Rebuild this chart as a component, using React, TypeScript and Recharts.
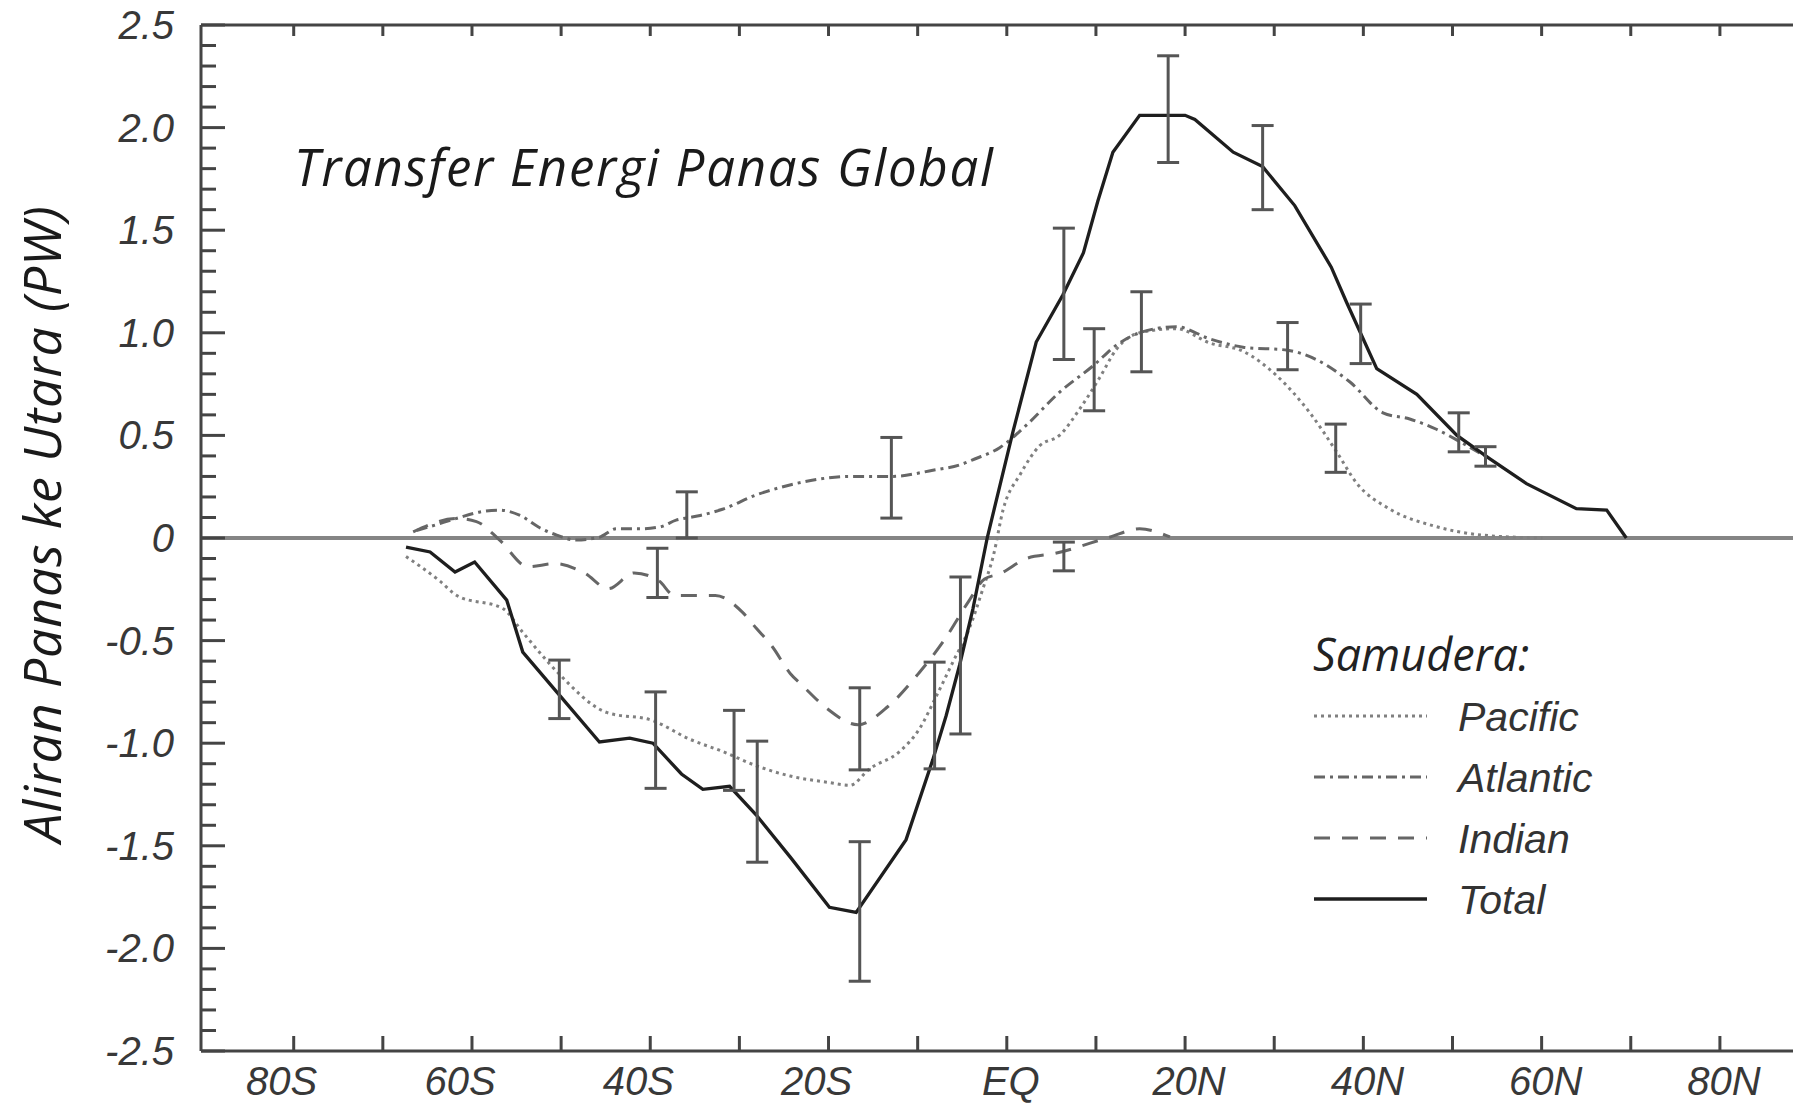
import React from 'react'
import {
  ComposedChart, Line, Scatter, ErrorBar, XAxis, YAxis, ReferenceLine, Customized,
} from 'recharts'

// latitude (deg, S negative) and northward heat transport (PW)
const pacificLat = [-67.4, -63.6, -61.7, -56.5, -54.3, -50.5, -44.9, -39.7, -35.6, -31.9, -28.1, -24.3, -20.2, -17.6, -15.4, -12, -9.8, -7.9, -6, -4.2, -2.7, -1.5, -0.4, 1.5, 3.7, 5.9, 8.2, 10.4, 12.3, 14.9, 19, 22.8, 26.5, 30.3, 34, 37, 39.2, 43, 47.8, 53.4, 60.1]
const pacificPW = [-0.09, -0.21, -0.28, -0.345, -0.46, -0.65, -0.85, -0.89, -0.98, -1.04, -1.11, -1.16, -1.19, -1.205, -1.125, -1.04, -0.93, -0.77, -0.6, -0.44, -0.25, -0.085, 0.14, 0.31, 0.45, 0.5, 0.63, 0.78, 0.92, 1.0, 1.02, 0.95, 0.91, 0.79, 0.61, 0.42, 0.27, 0.14, 0.06, 0.014, 0]

const atlanticLat = [-66.2, -63.6, -61.4, -59.1, -56.9, -54.6, -52.4, -50.5, -48.3, -45.7, -43.8, -41.2, -38.9, -37.1, -35.6, -34.4, -31.9, -28.1, -25.1, -22, -17.7, -12.9, -8.3, -5.3, -3.6, -0.8, 2.2, 5.9, 9.7, 12.3, 14.9, 19, 22.8, 26.5, 31.5, 34.7, 38.5, 42.2, 45.2, 48.2, 50.8, 54.2]
const atlanticPW = [0.037, 0.07, 0.1, 0.127, 0.136, 0.11, 0.05, 0.014, -0.01, 0.004, 0.045, 0.045, 0.054, 0.087, 0.1, 0.11, 0.14, 0.21, 0.25, 0.28, 0.3, 0.3, 0.33, 0.356, 0.385, 0.44, 0.55, 0.71, 0.84, 0.94, 1.0, 1.03, 0.97, 0.93, 0.915, 0.87, 0.76, 0.61, 0.58, 0.53, 0.47, 0.385]

const indianLat = [-66.6, -61.7, -59.5, -56.9, -53.7, -50.7, -47.4, -44.7, -41.8, -39, -37.3, -32.7, -29.7, -28.1, -26.3, -24.3, -22.9, -20.2, -16.7, -13.3, -9.9, -6.9, -4.3, -2.5, -0.8, 2.2, 5.4, 11.6, 14.9, 18.3]
const indianPW = [0.03, 0.095, 0.08, -0.01, -0.14, -0.125, -0.17, -0.247, -0.17, -0.21, -0.28, -0.28, -0.36, -0.44, -0.53, -0.66, -0.72, -0.83, -0.91, -0.82, -0.66, -0.49, -0.31, -0.2, -0.175, -0.1, -0.075, 0.005, 0.045, 0.005]

const totalLat = [-67.4, -64.7, -61.9, -59.7, -56.1, -54.3, -50.5, -45.7, -42.3, -39.7, -36.5, -34.1, -31.1, -28.1, -24.2, -19.9, -16.9, -11.3, -8.3, -6.8, -5.3, -3.8, -2.2, 0.7, 3.3, 6.3, 8.6, 10.2, 11.9, 14.9, 20, 21.1, 25.4, 28.7, 32.3, 36.4, 38.1, 41.5, 46, 50.5, 54.2, 58.3, 63.9, 67.3, 69.5]
const totalPW = [-0.044, -0.068, -0.166, -0.117, -0.303, -0.556, -0.75, -0.994, -0.975, -1.0, -1.15, -1.225, -1.21, -1.35, -1.56, -1.8, -1.825, -1.47, -1.08, -0.865, -0.62, -0.345, 0, 0.52, 0.955, 1.185, 1.39, 1.64, 1.88, 2.06, 2.06, 2.04, 1.88, 1.81, 1.62, 1.32, 1.15, 0.825, 0.7, 0.5, 0.386, 0.265, 0.143, 0.136, 0]

// error bars: latitude, lower end, upper end
const barLat = [-50.2, -39.2, -35.9, -39.4, -30.6, -28, -16.5, -16.5, -12.95, -8.1, -5.2, 6.4, 6.4, 9.8, 15.1, 18.1, 28.7, 31.5, 36.9, 39.7, 50.7, 53.7]
const barLow = [-0.88, -0.29, 0.0, -1.22, -1.23, -1.58, -1.13, -2.16, 0.097, -1.125, -0.955, -0.16, 0.87, 0.62, 0.81, 1.83, 1.6, 0.82, 0.32, 0.85, 0.42, 0.35]
const barHigh = [-0.595, -0.05, 0.225, -0.75, -0.84, -0.99, -0.73, -1.48, 0.49, -0.605, -0.19, -0.02, 1.51, 1.02, 1.2, 2.35, 2.01, 1.05, 0.555, 1.14, 0.61, 0.445]

const latTicks = [-80, -70, -60, -50, -40, -30, -20, -10, 0, 10, 20, 30, 40, 50, 60, 70, 80]
const latLabelTicks = [-80, -60, -40, -20, 0, 20, 40, 60, 80]
const latLabels = ['80S', '60S', '40S', '20S', 'EQ', '20N', '40N', '60N', '80N']
const pwTicks = Array.from({ length: 51 }, (_, i) => Math.round((-2.5 + i * 0.1) * 10) / 10)

const legendItems = [
  { name: 'Pacific', color: '#808080', dash: '3 4', width: 3 },
  { name: 'Atlantic', color: '#666', dash: '11 5 3 5', width: 3 },
  { name: 'Indian', color: '#666', dash: '16 12', width: 3 },
  { name: 'Total', color: '#1e1e1e', dash: undefined, width: 3.5 },
]

const toPoints = (lat: number[], pw: number[]) => lat.map((l, i) => ({ lat: l, pw: pw[i] }))
const errData = barLat.map((l, i) => {
  const mid = (barLow[i] + barHigh[i]) / 2
  return { lat: l, pw: mid, err: [mid - barLow[i], barHigh[i] - mid] }
})

const FRAME = '#444'
const LAT_DOMAIN = [-90.4, 88.2]
const tickFont = { fontFamily: '"Liberation Sans", Arial, sans-serif', fontStyle: 'italic' as const }

const LeftTick = (props: any) => {
  const { x, y, payload } = props
  const v = payload.value
  const major = Math.abs(v * 2 - Math.round(v * 2)) < 1e-6
  return (
    <g>
      <line x1={x} x2={x + (major ? 24 : 15)} y1={y} y2={y} stroke={FRAME} strokeWidth={3} />
      {major && (
        <text x={x - 27} y={y + 14} textAnchor="end" fontSize={40} fill="#383838" {...tickFont}>
          {v === 0 ? '0' : v.toFixed(1)}
        </text>
      )}
    </g>
  )
}

const RightTick = (props: any) => {
  const { x, y, payload } = props
  const v = payload.value
  const major = Math.abs(v * 2 - Math.round(v * 2)) < 1e-6
  return <line x1={x} x2={x - (major ? 24 : 15)} y1={y} y2={y} stroke="#888" strokeWidth={2} />
}

const BottomTick = (props: any) => {
  const { x, y, payload } = props
  const idx = latLabelTicks.indexOf(payload.value)
  // labels in the original sit a little off their ticks: S ones to the left, N ones to the right
  const shift = payload.value < 0 ? -12 : 4
  return (
    <g>
      <line x1={x} x2={x} y1={y} y2={y - 15} stroke={FRAME} strokeWidth={3} />
      {idx >= 0 && (
        <text x={x + shift} y={y + 44} textAnchor="middle" fontSize={40} fill="#383838" {...tickFont}>
          {latLabels[idx]}
        </text>
      )}
    </g>
  )
}

const TopTick = (props: any) => {
  const { x, y } = props
  return <line x1={x} x2={x} y1={y} y2={y + 11} stroke={FRAME} strokeWidth={3} />
}

const Titles = () => (
  <g>
    <text x={294} y={186} fontSize={51} letterSpacing={1.7} fill="#1a1a1a" fontFamily='"Open Sans", sans-serif' fontStyle="italic">
      Transfer Energi Panas Global
    </text>
    <text
      x={61} y={524} transform="rotate(-90, 61, 524)" textAnchor="middle" letterSpacing={0.8}
      fontSize={52} fill="#1a1a1a" fontFamily='"Open Sans", sans-serif' fontStyle="italic"
    >
      Aliran Panas ke Utara (PW)
    </text>
  </g>
)

// legend drawn inside the plot, lower right
const LegendBox = () => (
  <g transform="translate(1300, 630)">
    <text x={13} y={41} fontSize={45} fill="#222" fontFamily='"Open Sans", sans-serif' fontStyle="italic">
      Samudera:
    </text>
    {legendItems.map((it, i) => {
      const ly = 86 + i * 61
      return (
        <g key={it.name}>
          <line x1={14} x2={127} y1={ly} y2={ly} stroke={it.color} strokeWidth={it.width} strokeDasharray={it.dash} />
          <text x={158} y={ly + 15} fontSize={41} fill="#333" {...tickFont}>{it.name}</text>
        </g>
      )
    })}
  </g>
)

export default function App() {
  return (
    <div style={{ position: 'absolute', left: 0, top: 0, width: 1795, height: 1104, overflow: 'hidden', background: '#fff' }}>
      <ComposedChart width={1795} height={1104} margin={{ top: 24, right: 2, bottom: 3, left: 101 }}>
        <XAxis
          xAxisId="bottom" dataKey="lat" type="number" domain={LAT_DOMAIN} ticks={latTicks}
          allowDataOverflow height={50} tickSize={0} tickMargin={0} tickLine={false}
          axisLine={{ stroke: FRAME, strokeWidth: 3 }} tick={<BottomTick />} interval={0}
        />
        <XAxis
          xAxisId="top" orientation="top" dataKey="lat" type="number" domain={LAT_DOMAIN} ticks={latTicks}
          allowDataOverflow height={1} tickSize={0} tickMargin={0} tickLine={false}
          axisLine={{ stroke: FRAME, strokeWidth: 3 }} tick={<TopTick />} interval={0}
        />
        <YAxis
          yAxisId="left" type="number" domain={[-2.5, 2.5]} ticks={pwTicks} allowDataOverflow
          width={100} tickSize={0} tickMargin={0} tickLine={false} interval={0}
          axisLine={{ stroke: FRAME, strokeWidth: 3 }} tick={<LeftTick />}
        />
        <YAxis
          yAxisId="right" orientation="right" type="number" domain={[-2.5, 2.5]} ticks={pwTicks} allowDataOverflow
          width={0} tickSize={0} tickMargin={0} tickLine={false} interval={0}
          axisLine={{ stroke: '#999', strokeWidth: 2 }} tick={<RightTick />}
        />
        <ReferenceLine xAxisId="bottom" yAxisId="left" y={0} stroke="#858585" strokeWidth={4} />
        <Line xAxisId="bottom" yAxisId="left" data={toPoints(pacificLat, pacificPW)} dataKey="pw" type="monotone"
          stroke="#808080" strokeWidth={3} strokeDasharray="3 4" dot={false} isAnimationActive={false} />
        <Line xAxisId="bottom" yAxisId="left" data={toPoints(atlanticLat, atlanticPW)} dataKey="pw" type="monotone"
          stroke="#666" strokeWidth={3} strokeDasharray="11 5 3 5" dot={false} isAnimationActive={false} />
        <Line xAxisId="bottom" yAxisId="left" data={toPoints(indianLat, indianPW)} dataKey="pw" type="monotone"
          stroke="#666" strokeWidth={3} strokeDasharray="16 12" dot={false} isAnimationActive={false} />
        {/* top/right axes share the same domains as bottom/left */}
        <Line xAxisId="top" yAxisId="right" data={toPoints(totalLat, totalPW)} dataKey="pw" type="linear"
          stroke="#1e1e1e" strokeWidth={3.3} dot={false} isAnimationActive={false} />
        <Scatter xAxisId="bottom" yAxisId="left" data={errData} dataKey="pw" shape={() => <g />} isAnimationActive={false}>
          <ErrorBar dataKey="err" direction="y" width={11} stroke="#555" strokeWidth={3} isAnimationActive={false} />
        </Scatter>
        <Customized component={Titles} />
        <Customized component={LegendBox} />
      </ComposedChart>
    </div>
  )
}
